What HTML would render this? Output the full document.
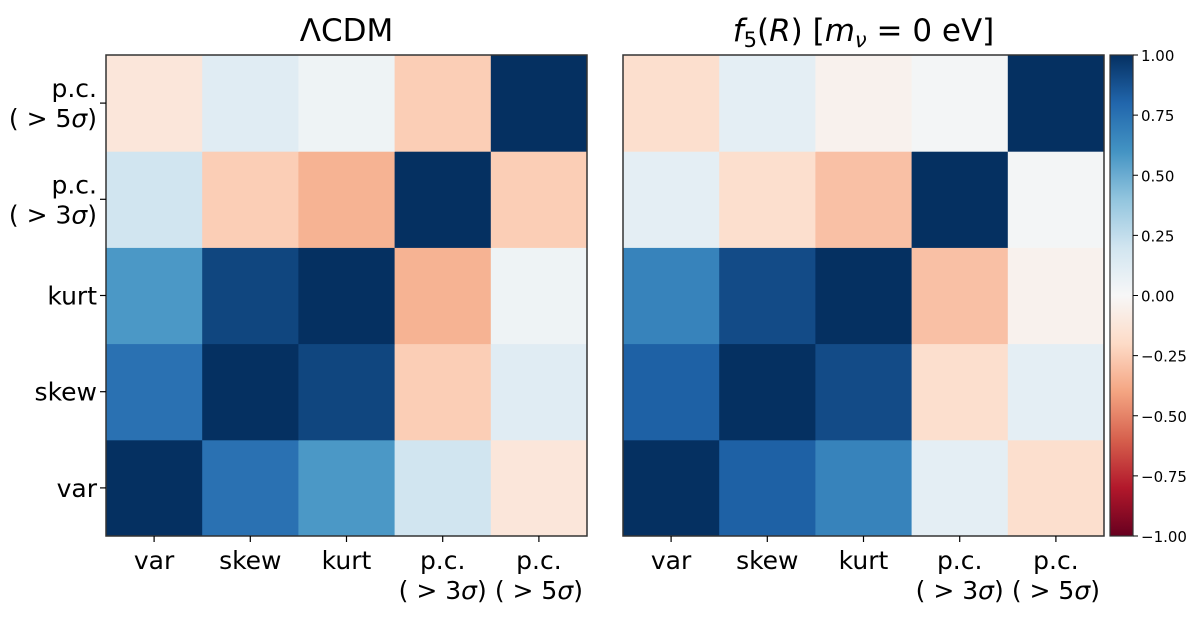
<!DOCTYPE html>
<html><head><meta charset="utf-8"><style>
body{margin:0;background:#fff;}
svg text{font-family:"DejaVu Sans","Liberation Sans",sans-serif;fill:#000;}
</style></head><body>
<svg id="fig" width="1200" height="615" xmlns="http://www.w3.org/2000/svg"></svg>
<script>
const labels = ["var","skew","kurt","p.c.3","p.c.5"];
const lcdm = [
 [1.00, 0.75, 0.58, 0.20,-0.12],
 [0.75, 1.00, 0.92,-0.25, 0.12],
 [0.58, 0.92, 1.00,-0.35, 0.05],
 [0.20,-0.25,-0.35, 1.00,-0.25],
 [-0.12,0.12, 0.05,-0.25, 1.00]];
const f5 = [
 [1.00, 0.82, 0.67, 0.10,-0.17],
 [0.82, 1.00, 0.90,-0.17, 0.10],
 [0.67, 0.90, 1.00,-0.30,-0.04],
 [0.10,-0.17,-0.30, 1.00, 0.02],
 [-0.17,0.10,-0.04, 0.02, 1.00]];
const cbTicks = [1.00,0.75,0.50,0.25,0.00,-0.25,-0.50,-0.75,-1.00];

const NS="http://www.w3.org/2000/svg";
const svg=document.getElementById('fig');
const stops=["#67001f","#b2182b","#d6604d","#f4a582","#fddbc7","#f7f7f7","#d1e5f0","#92c5de","#4393c3","#2166ac","#053061"].map(h=>[1,3,5].map(i=>parseInt(h.substr(i,2),16)));
function cmap(v){let t=Math.max(0,Math.min(1,(v+1)/2))*10;let i=Math.min(9,Math.floor(t)),f=t-i;
 const c=stops[i].map((a,k)=>Math.round(a+(stops[i+1][k]-a)*f));return `rgb(${c.join(',')})`;}
function el(tag,attrs,parent){const e=document.createElementNS(NS,tag);for(const k in attrs)e.setAttribute(k,attrs[k]);(parent||svg).appendChild(e);return e;}
const top0=55,size=481,n=5,cell=size/n;
function xs(i,x0){return x0+i*cell;}
function ys(i){return top0+size-(i+1)*cell;}
function drawPanel(x0,mat,title,name,showY){
 const g=el('g',{});
 
 
 for(let r=0;r<n;r++)for(let c=0;c<n;c++){
  const rc=el('rect',{x:xs(c,x0),y:ys(r),width:cell+0.5,height:cell+0.5,fill:cmap(mat[r][c])},g);
  
  
 }
 el('rect',{x:x0,y:top0,width:size,height:size,fill:'none',stroke:'#333','stroke-width':1.5},g);
 const t=el('text',{x:x0+size/2,y:41,'font-size':31,'text-anchor':'middle'},g);
 t.innerHTML=title;
 
 
 for(let c=0;c<n;c++){
  const cx=xs(c,x0)+cell/2;
  el('line',{x1:cx,y1:top0+size,x2:cx,y2:top0+size+6,stroke:'#000','stroke-width':1.2},g);
  const tx=el('text',{x:cx,y:569,'font-size':25,'text-anchor':'middle'},g);
  
  
  if(c<3)tx.textContent=labels[c];
  else tx.innerHTML='p.c.<tspan x="'+cx+'" dy="30">( &gt; '+(c==3?3:5)+'<tspan font-style="italic">σ</tspan>)</tspan>';
 }
 if(showY){
  for(let r=0;r<n;r++){
   const cy=ys(r)+cell/2;
   el('line',{x1:x0-6,y1:cy,x2:x0,y2:cy,stroke:'#000','stroke-width':1.2},g);
   const ty=el('text',{x:97,y:cy+9,'font-size':25,'text-anchor':'end'},g);
   
   
   if(r<3)ty.textContent=labels[r];
   else{ty.setAttribute('y',cy-6);ty.innerHTML='p.c.<tspan x="97" dy="30">( &gt; '+(r==3?3:5)+'<tspan font-style="italic">σ</tspan>)</tspan>';}
  }
 }
}
drawPanel(106,lcdm,'ΛCDM','panel-lcdm',true);
drawPanel(623,f5,'<tspan font-style="italic">f</tspan><tspan font-size="21" dy="6">5</tspan><tspan dy="-6">(<tspan font-style="italic">R</tspan>) [<tspan font-style="italic">m</tspan></tspan><tspan font-size="21" font-style="italic" dy="6">ν</tspan><tspan dy="-6"> = 0 eV]</tspan>','panel-f5r',false);
const cb=el('g',{});


const cbx=1110,cbw=23;
const defs=el('defs',{},cb);
const lg=el('linearGradient',{id:'cbg',x1:0,y1:1,x2:0,y2:0},defs);
for(let i=0;i<=20;i++){el('stop',{offset:i/20,'stop-color':cmap(-1+i/10)},lg);}
el('rect',{x:cbx,y:top0,width:cbw,height:size,fill:'url(#cbg)',stroke:'#333','stroke-width':1.2},cb);
function cbY(v){return top0+size*(1-v)/2;}
cbTicks.forEach(v=>{
 const y=cbY(v);
 el('line',{x1:cbx+cbw,y1:y,x2:cbx+cbw+5,y2:y,stroke:'#000','stroke-width':1},cb);
 const t=el('text',{x:cbx+cbw+8,y:y+6,'font-size':15},cb);
 t.textContent=v.toFixed(2).replace('-','−');
 
 
});
</script>
</body></html>
